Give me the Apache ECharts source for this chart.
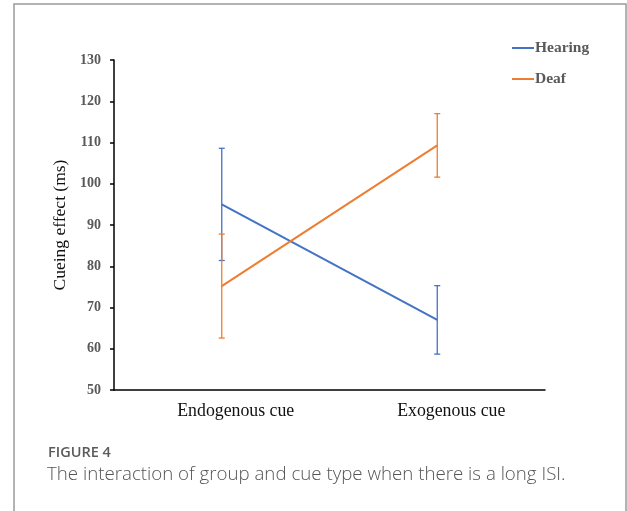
<!DOCTYPE html>
<html>
<head>
<meta charset="utf-8">
<script src="https://cdn.jsdelivr.net/npm/echarts@6/dist/echarts.min.js"></script>
<style>
html,body{margin:0;padding:0;background:#fff;}
#chart{width:627px;height:511px;}
</style>
</head>
<body>
<div id="chart"></div>
<script>
var categories = ['Endogenous cue', 'Exogenous cue'];
var hearingMean = [95.0, 67.0];
var hearingErr = [13.6, 8.3];
var deafMean = [75.2, 109.3];
var deafErr = [12.6, 7.7];
var yTicks = {min: 50, max: 130, interval: 10};

var blue = '#4472C4';
var orange = '#ED7D31';

function errData(mean, err) {
  return mean.map(function (m, i) { return [i, m - err[i], m + err[i]]; });
}
function errRender(color) {
  return function (params, api) {
    var x = api.value(0);
    var lo = api.coord([x, api.value(1)]);
    var hi = api.coord([x, api.value(2)]);
    var cap = 3;
    var st = {stroke: color, lineWidth: 1.3};
    return {
      type: 'group',
      children: [
        {type: 'line', shape: {x1: lo[0], y1: lo[1], x2: hi[0], y2: hi[1]}, style: st},
        {type: 'line', shape: {x1: lo[0] - cap, y1: lo[1], x2: lo[0] + cap, y2: lo[1]}, style: st},
        {type: 'line', shape: {x1: hi[0] - cap, y1: hi[1], x2: hi[0] + cap, y2: hi[1]}, style: st}
      ]
    };
  };
}

var chart = echarts.init(document.getElementById('chart'));
chart.setOption({
  animation: false,
  backgroundColor: '#fff',
  grid: {left: 114, width: 431, top: 60, height: 330},
  legend: {
    orient: 'vertical',
    left: 507,
    top: 35,
    itemGap: 15,
    itemWidth: 22,
    itemHeight: 2,
    icon: 'rect',
    textStyle: {fontFamily: 'Liberation Serif', fontWeight: 'bold', fontSize: 15.5, color: '#595959', padding: [0, 0, 0, -4]},
    data: ['Hearing', 'Deaf']
  },
  xAxis: {
    type: 'category',
    data: categories,
    axisLine: {lineStyle: {color: '#000', width: 1.5}},
    axisTick: {alignWithLabel: true, length: 4, inside: true, lineStyle: {color: '#000', width: 1.5}},
    axisLabel: {fontFamily: 'Liberation Serif', fontSize: 17.8, color: '#111', margin: 12, padding: [0, 0, 0, 28]}
  },
  yAxis: {
    type: 'value',
    min: yTicks.min, max: yTicks.max, interval: yTicks.interval,
    name: 'Cueing effect (ms)',
    nameLocation: 'middle',
    nameGap: 45,
    nameTextStyle: {fontFamily: 'Liberation Serif', fontSize: 17.5, color: '#111'},
    axisLine: {show: true, lineStyle: {color: '#000', width: 1.5}},
    axisTick: {show: true, length: 4, lineStyle: {color: '#000', width: 1.5}},
    splitLine: {show: false},
    axisLabel: {fontFamily: 'Liberation Serif', fontWeight: 'bold', fontSize: 14, color: '#595959', margin: 13}
  },
  series: [
    {name: 'Hearing', type: 'line', data: hearingMean, showSymbol: false, symbol: 'none',
     lineStyle: {color: blue, width: 2}, itemStyle: {color: blue}},
    {name: 'Deaf', type: 'line', data: deafMean, showSymbol: false, symbol: 'none',
     lineStyle: {color: orange, width: 2}, itemStyle: {color: orange}},
    {name: 'HearingErr', type: 'custom', data: errData(hearingMean, hearingErr), renderItem: errRender(blue), z: 3},
    {name: 'DeafErr', type: 'custom', data: errData(deafMean, deafErr), renderItem: errRender(orange), z: 3}
  ],
  graphic: [
    {type: 'rect', shape: {x: 14, y: 4, width: 612, height: 520}, style: {fill: 'none', stroke: '#9a9a9a', lineWidth: 1.5}, silent: true},
    {type: 'text', left: 48, top: 445, style: {text: 'FIGURE 4', font: '600 14.5px "Open Sans"', fill: '#5a5a5a'}},
    {type: 'text', left: 47, top: 465, style: {text: 'The interaction of group and cue type when there is a long ISI.', font: '300 18.7px "Open Sans"', fill: '#555'}}
  ]
});
</script>
</body>
</html>
